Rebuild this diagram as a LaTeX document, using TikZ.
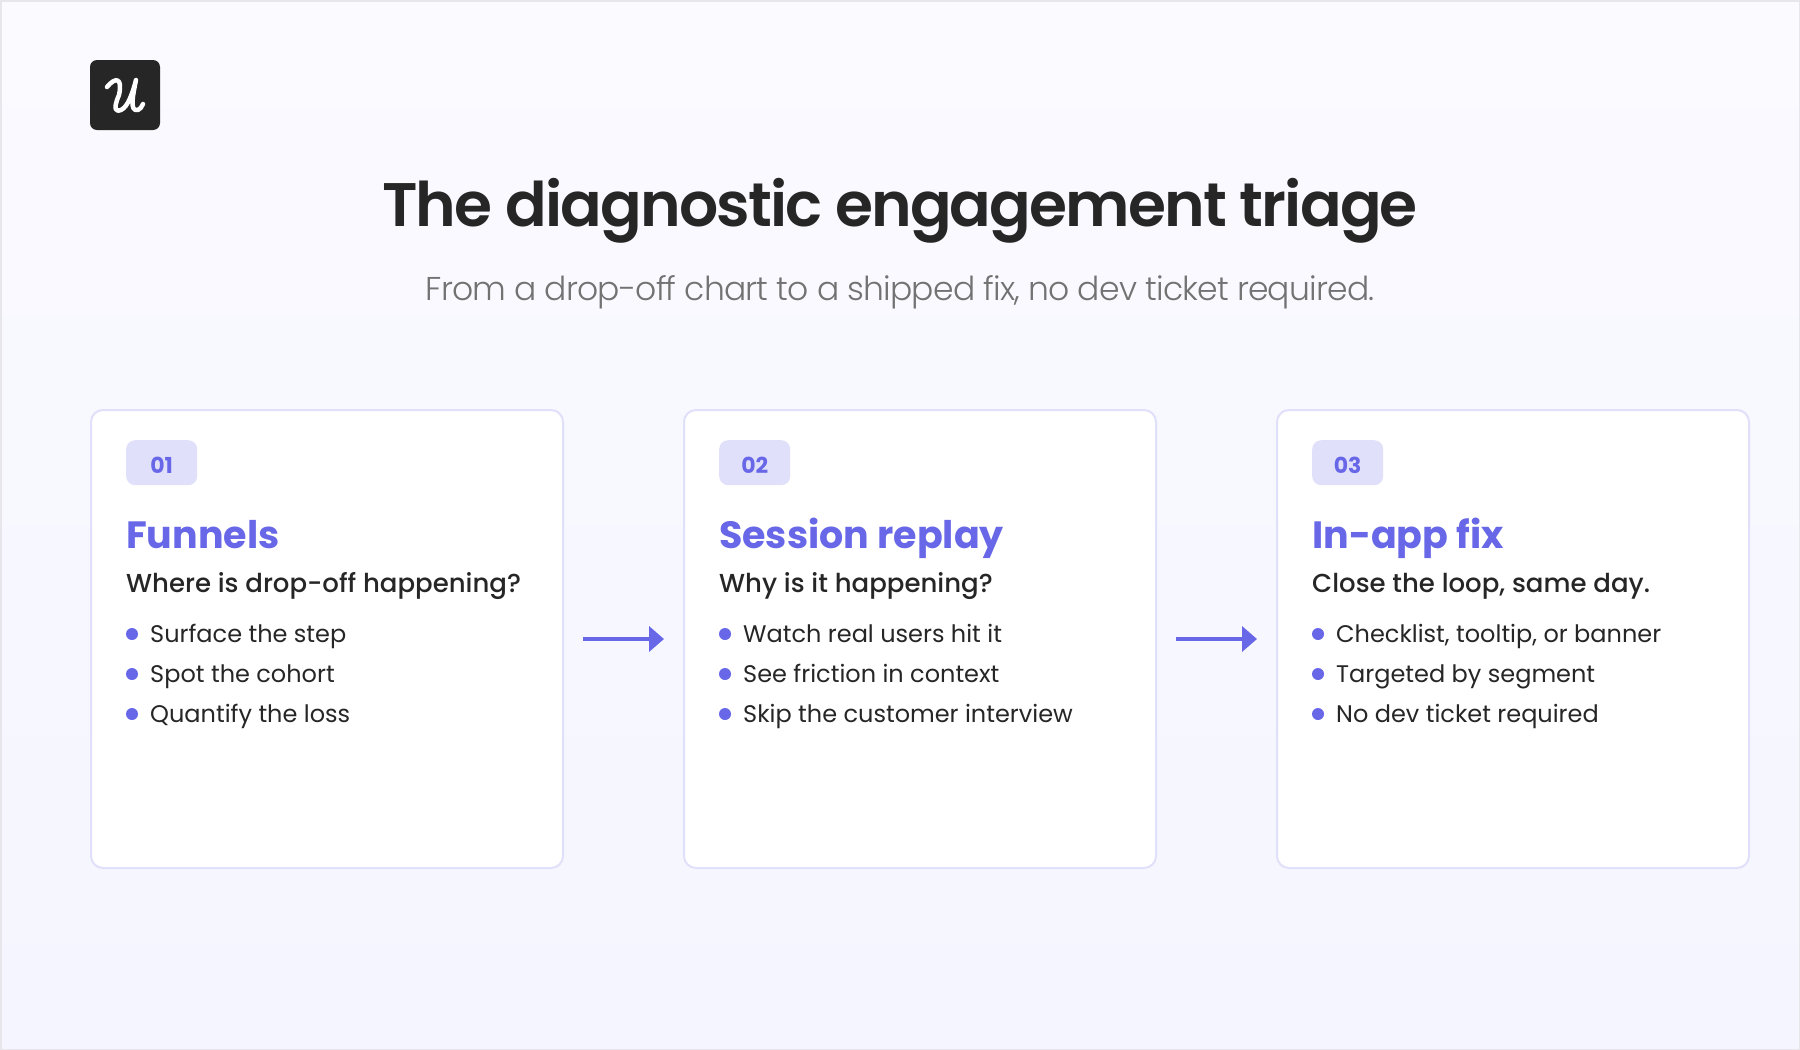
\documentclass[tikz,border=0pt]{standalone}
\usepackage{fontspec}
\setmainfont{Poppins}
\newfontfamily\titlefont{Poppins SemiBold}[LetterSpace=-3]
\newfontfamily\subfont{Poppins Light}[LetterSpace=-2.5]
\newfontfamily\medfont{Poppins Medium}
\newfontfamily\boldfont{Poppins}[UprightFont=* Bold]
\usetikzlibrary{shapes,arrows,arrows.meta}
\definecolor{accent}{HTML}{6767E8}
\definecolor{ink}{HTML}{262626}
\definecolor{edge}{HTML}{E0E0FA}
\definecolor{paperTop}{HTML}{FAFAFF}
\definecolor{paperEnd}{HTML}{F5F5FF}
\tikzstyle{card} = [draw=edge, line width=2pt, fill=white, rectangle, rounded corners=12pt,
    minimum height=458pt, minimum width=472pt]
\tikzstyle{badge} = [fill=edge, rectangle, rounded corners=9pt, minimum height=45pt, minimum width=71pt,
    inner sep=0pt, text=accent, text height=20.6pt, text depth=0pt, font=\boldfont\fontsize{22}{22}\selectfont]
\tikzstyle{heading} = [inner sep=0pt, anchor=base west, text=accent, font=\boldfont\fontsize{38}{38}\selectfont]
\tikzstyle{question} = [inner sep=0pt, anchor=base west, text=ink, font=\medfont\fontsize{26}{26}\selectfont]
\tikzstyle{dotmark} = [circle, fill=accent, inner sep=0pt, minimum size=12pt]
\tikzstyle{item} = [inner sep=0pt, anchor=base west, text=ink, font=\fontsize{24}{24}\selectfont]
\tikzstyle{flow} = [draw=accent, line width=4.5pt, ->]

\begin{document}
\begin{tikzpicture}[auto, node distance=593pt, x=1pt, y=1pt, >={Triangle[length=15pt,width=25pt]}]
    \useasboundingbox (0,0) rectangle (1800,-1050);
    \shade [top color=paperTop, bottom color=paperEnd, draw=edge!50!gray!30!white, line width=1.5pt]
        (0.75,-0.75) rectangle (1799.25,-1049.25);
    % logo
    \node [fill=ink, rectangle, rounded corners=7pt, minimum size=70pt, inner sep=0pt] (logo) at (125,-95) {};
    \draw [white, line width=4.5pt, line cap=round, line join=round]
        ([xshift=-18pt,yshift=8pt]logo.center) .. controls ([xshift=-10pt,yshift=18pt]logo.center) and ([xshift=-2pt,yshift=18pt]logo.center) ..
        ([xshift=-6pt,yshift=0pt]logo.center) .. controls ([xshift=-13pt,yshift=-16pt]logo.center) and ([xshift=-8pt,yshift=-17pt]logo.center) ..
        ([xshift=-4pt,yshift=-15pt]logo.center) .. controls ([xshift=3pt,yshift=-12pt]logo.center) and ([xshift=8pt,yshift=3pt]logo.center) ..
        ([xshift=11pt,yshift=15pt]logo.center) .. controls ([xshift=8pt,yshift=0pt]logo.center) and ([xshift=4pt,yshift=-17pt]logo.center) ..
        ([xshift=13pt,yshift=-15pt]logo.center) .. controls ([xshift=15pt,yshift=-14pt]logo.center) and ([xshift=17pt,yshift=-12pt]logo.center) ..
        ([xshift=18pt,yshift=-9pt]logo.center);
    % header
    \node [anchor=base, inner sep=0pt, text=ink, font=\titlefont\fontsize{61.5}{62}\selectfont] (title) at (900,-226) {The diagnostic engagement triage};
    \node [anchor=base, inner sep=0pt, text=ink!65!white, font=\subfont\fontsize{33}{33}\selectfont] (subtitle) at (900,-300) {From a drop-off chart to a shipped fix, no dev ticket required.};
    % cards
    \node [card] (funnels) at (327,-639) {};
    \node [card, right of=funnels] (replay) {};
    \node [card, right of=replay] (fix) {};
    \draw [flow] ([xshift=19pt]funnels.east) -- ([xshift=-19pt]replay.west);
    \draw [flow] ([xshift=19pt]replay.east) -- ([xshift=-19pt]fix.west);
    % card 1
    \node [badge, anchor=north west] (funnelsNum) at ([xshift=36pt,yshift=-31pt]funnels.north west) {01};
    \node [heading] (funnelsHead) at ([xshift=36pt,yshift=-139pt]funnels.north west) {Funnels};
    \node [question] (funnelsAsk) at ([xshift=36pt,yshift=-183.5pt]funnels.north west) {Where is drop-off happening?};
    \node [dotmark] (funnelsDotA) at ([xshift=42pt,yshift=-225pt]funnels.north west) {};
    \node [item] (funnelsA) at ([xshift=18pt,yshift=-8.5pt]funnelsDotA.center) {Surface the step};
    \node [dotmark] (funnelsDotB) at ([xshift=42pt,yshift=-265pt]funnels.north west) {};
    \node [item] (funnelsB) at ([xshift=18pt,yshift=-8.5pt]funnelsDotB.center) {Spot the cohort};
    \node [dotmark] (funnelsDotC) at ([xshift=42pt,yshift=-305pt]funnels.north west) {};
    \node [item] (funnelsC) at ([xshift=18pt,yshift=-8.5pt]funnelsDotC.center) {Quantify the loss};
    % card 2
    \node [badge, anchor=north west] (replayNum) at ([xshift=36pt,yshift=-31pt]replay.north west) {02};
    \node [heading] (replayHead) at ([xshift=36pt,yshift=-139pt]replay.north west) {Session replay};
    \node [question] (replayAsk) at ([xshift=36pt,yshift=-183.5pt]replay.north west) {Why is it happening?};
    \node [dotmark] (replayDotA) at ([xshift=42pt,yshift=-225pt]replay.north west) {};
    \node [item] (replayA) at ([xshift=18pt,yshift=-8.5pt]replayDotA.center) {Watch real users hit it};
    \node [dotmark] (replayDotB) at ([xshift=42pt,yshift=-265pt]replay.north west) {};
    \node [item] (replayB) at ([xshift=18pt,yshift=-8.5pt]replayDotB.center) {See friction in context};
    \node [dotmark] (replayDotC) at ([xshift=42pt,yshift=-305pt]replay.north west) {};
    \node [item] (replayC) at ([xshift=18pt,yshift=-8.5pt]replayDotC.center) {Skip the customer interview};
    % card 3
    \node [badge, anchor=north west] (fixNum) at ([xshift=36pt,yshift=-31pt]fix.north west) {03};
    \node [heading] (fixHead) at ([xshift=36pt,yshift=-139pt]fix.north west) {In-app fix};
    \node [question] (fixAsk) at ([xshift=36pt,yshift=-183.5pt]fix.north west) {Close the loop, same day.};
    \node [dotmark] (fixDotA) at ([xshift=42pt,yshift=-225pt]fix.north west) {};
    \node [item] (fixA) at ([xshift=18pt,yshift=-8.5pt]fixDotA.center) {Checklist, tooltip, or banner};
    \node [dotmark] (fixDotB) at ([xshift=42pt,yshift=-265pt]fix.north west) {};
    \node [item] (fixB) at ([xshift=18pt,yshift=-8.5pt]fixDotB.center) {Targeted by segment};
    \node [dotmark] (fixDotC) at ([xshift=42pt,yshift=-305pt]fix.north west) {};
    \node [item] (fixC) at ([xshift=18pt,yshift=-8.5pt]fixDotC.center) {No dev ticket required};
\end{tikzpicture}
\end{document}
